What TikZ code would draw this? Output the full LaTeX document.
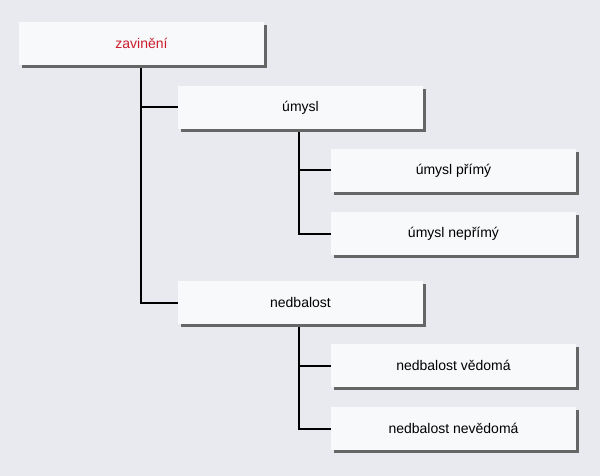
\documentclass[tikz,border=0pt]{standalone}
\usepackage{fontspec}
\setmainfont{Liberation Sans}
\usepackage{tikz}
\usetikzlibrary{shadows,backgrounds}
\definecolor{pozadi}{HTML}{E8EAEF}
\definecolor{krabice}{HTML}{F8F9FB}
\definecolor{stin}{HTML}{666666}
\definecolor{cervena}{HTML}{CC1C2C}

\begin{document}
\begin{tikzpicture}[x=1pt,y=-1pt,
    pojem/.style={fill=krabice,minimum width=245pt,minimum height=43pt,inner sep=0pt,
      font=\fontsize{14}{16}\selectfont,
      drop shadow={shadow xshift=3pt,shadow yshift=-3pt,fill=stin,opacity=1}},
    vetev/.style={line width=2pt,black}]
            \useasboundingbox (0,0) rectangle (600,476);

            \node[pojem,text=cervena] (zavineni) at (141.5,43.5){zavinění};
            \node[pojem] (umysl) at (300.5,107.5){úmysl};
            \node[pojem] (primy) at (453.5,170.5){úmysl přímý};
            \node[pojem] (neprimy) at (453.5,233.5){úmysl nepřímý};
            \node[pojem] (nedbalost) at (300.5,302.5){nedbalost};
            \node[pojem] (vedoma) at (453.5,365.5){nedbalost vědomá};
            \node[pojem] (nevedoma) at (453.5,428.5){nedbalost nevědomá};

            \begin{scope}[on background layer]
            \fill[pozadi] (0,0) rectangle (600,476);
            \draw[vetev] ([xshift=-0.5pt]zavineni.south) |- (umysl.west);
            \draw[vetev] ([xshift=-0.5pt]zavineni.south) |- (nedbalost.west);
            \draw[vetev] ([xshift=-1.5pt]umysl.south) |- (primy.west);
            \draw[vetev] ([xshift=-1.5pt]umysl.south) |- (neprimy.west);
            \draw[vetev] ([xshift=-1.5pt]nedbalost.south) |- (vedoma.west);
            \draw[vetev] ([xshift=-1.5pt]nedbalost.south) |- (nevedoma.west);
            \end{scope}
          \end{tikzpicture}
\end{document}
